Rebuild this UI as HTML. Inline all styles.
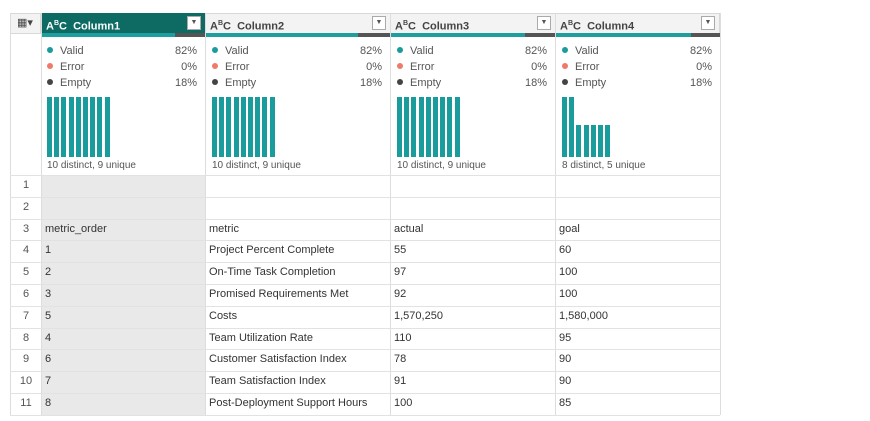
<!DOCTYPE html>
<html><head><style>
*{margin:0;padding:0;box-sizing:border-box}
body{width:870px;height:421px;background:#fff;font-family:"Liberation Sans",sans-serif;font-size:11px;color:#333;position:relative;overflow:hidden}
.a{position:absolute}
.hdr{top:13px;height:21px;border:1px solid #d8d8d8;background:#f3f3f3;font-size:11px;font-weight:bold;line-height:19px;color:#444}
.bar{top:33px;height:4px;background:#1e9e9e}
.dd{position:absolute;right:4px;top:2px;width:14px;height:14px;border:1px solid #aaa;background:#fff;font-size:7px;line-height:12px;text-align:center;color:#555;font-weight:normal}
.vl{position:absolute;width:1px;background:#ddd;top:13px;height:402px}
.hl{position:absolute;height:1px;background:#e2e2e2;left:10px;width:710px}
.p{font-size:11px;color:#555}
.dot{display:inline-block;width:6px;height:6px;border-radius:3px;margin-right:7px;vertical-align:1px}
.b{position:absolute;width:5px;background:#1a9c9c}
.cell{position:absolute;font-size:11px;color:#333;line-height:21px}
</style></head><body>
<div class="a" style="left:41px;top:37px;width:164px;height:378px;background:#e9e9e9"></div>
<div class="a" style="left:41px;top:37px;width:164px;height:138px;background:#fff"></div>
<div class="a hdr" style="left:10px;width:31px;font-weight:normal;padding-left:6px">▦▾</div>
<div class="a hdr" style="left:41px;width:165px;background:#0d6b63;color:#fff;padding-left:4px;border-color:#0d6b63">A<sup style="font-size:7px">B</sup>C&nbsp; Column1<span class="dd">▼</span></div>
<div class="a hdr" style="left:205px;width:186px;padding-left:4px">A<sup style="font-size:7px">B</sup>C&nbsp; Column2<span class="dd">▼</span></div>
<div class="a hdr" style="left:390px;width:166px;padding-left:4px">A<sup style="font-size:7px">B</sup>C&nbsp; Column3<span class="dd">▼</span></div>
<div class="a hdr" style="left:555px;width:165px;padding-left:4px">A<sup style="font-size:7px">B</sup>C&nbsp; Column4<span class="dd">▼</span></div>
<div class="a bar" style="left:41px;width:134px"></div><div class="a bar" style="left:175px;width:30px;background:#555"></div>
<div class="a bar" style="left:206px;width:152px"></div><div class="a bar" style="left:358px;width:32px;background:#555"></div>
<div class="a bar" style="left:391px;width:134px"></div><div class="a bar" style="left:525px;width:30px;background:#555"></div>
<div class="a bar" style="left:556px;width:135px"></div><div class="a bar" style="left:691px;width:29px;background:#555"></div>

<div class="vl" style="left:10px"></div><div class="vl" style="left:41px"></div><div class="vl" style="left:205px"></div><div class="vl" style="left:390px"></div><div class="vl" style="left:555px"></div><div class="vl" style="left:720px"></div>

<div id="prof"></div>
<script>
var cols=[[41,164,0],[206,184,0],[391,164,0],[556,164,1]];
var h='';
cols.forEach(function(c,i){
 var x=c[0]+6,w=c[1]-14;
 [['Valid','82%','#1a9c9c',52],['Error','0%','#f07a6a',68],['Empty','18%','#444',84]].forEach(function(r){
  h+='<div class="a p" style="left:'+x+'px;top:'+(r[3]-7)+'px;width:'+w+'px"><span class="dot" style="background:'+r[2]+'"></span>'+r[0]+'<span style="float:right">'+r[1]+'</span></div>';
 });
 var n=c[2]?7:9;
 for(var k=0;k<n;k++){var top=(c[2]&&k>=2)?125:97;h+='<div class="b" style="left:'+(x+k*7.2).toFixed(1)+'px;top:'+top+'px;height:'+(157-top)+'px"></div>';}
 h+='<div class="a p" style="left:'+x+'px;top:160px;font-size:10px">'+(c[2]?'8 distinct, 5 unique':'10 distinct, 9 unique')+'</div>';
});
var rows=[['','','',''],['','','',''],['metric_order','metric','actual','goal'],['1','Project Percent Complete','55','60'],['2','On-Time Task Completion','97','100'],['3','Promised Requirements Met','92','100'],['5','Costs','1,570,250','1,580,000'],['4','Team Utilization Rate','110','95'],['6','Customer Satisfaction Index','78','90'],['7','Team Satisfaction Index','91','90'],['8','Post-Deployment Support Hours','100','85']];
rows.forEach(function(r,i){
 var y=175+i*21.8;
 h+='<div class="hl" style="top:'+y.toFixed(1)+'px"></div>';
 h+='<div class="cell" style="left:11px;width:30px;text-align:center;top:'+y.toFixed(1)+'px;color:#555">'+(i+1)+'</div>';
 [45,209,394,559].forEach(function(x,j){h+='<div class="cell" style="left:'+x+'px;top:'+y.toFixed(1)+'px">'+r[j]+'</div>';});
});
h+='<div class="hl" style="top:415px"></div>';
document.getElementById('prof').innerHTML=h;
</script>
</body></html>
